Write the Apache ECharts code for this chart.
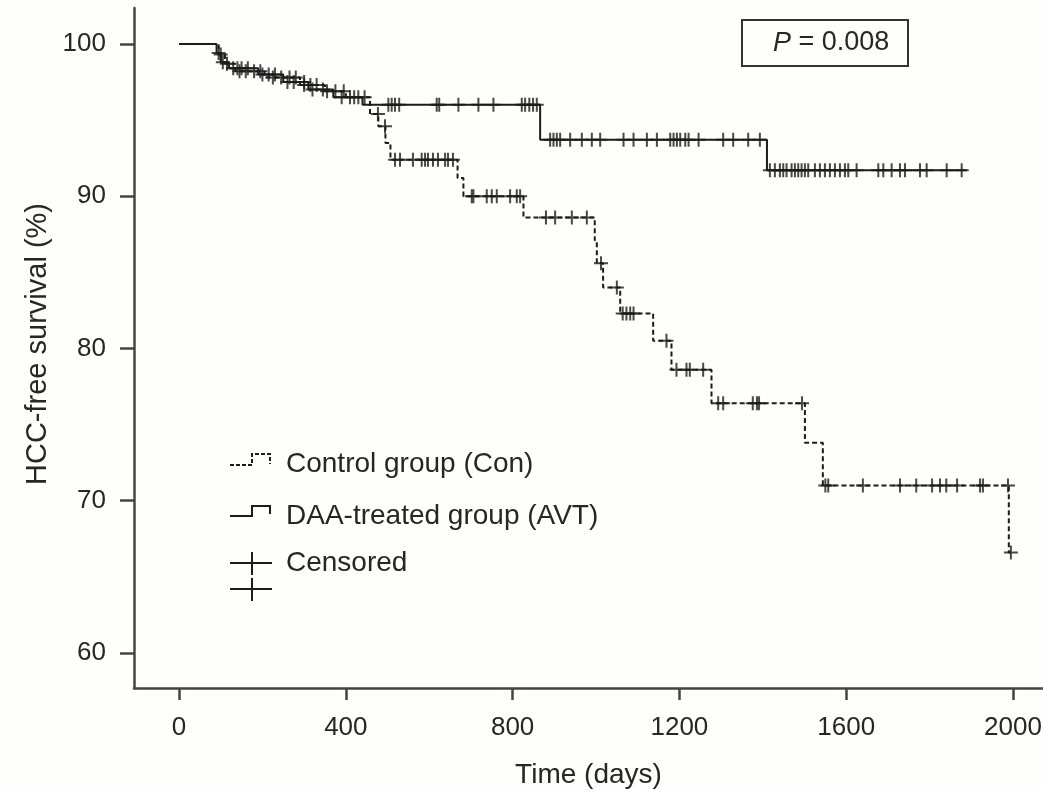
<!DOCTYPE html>
<html>
<head>
<meta charset="utf-8">
<script src="https://cdn.jsdelivr.net/npm/echarts@6/dist/echarts.min.js"></script>
<style>
html,body{margin:0;padding:0;background:#fefefb;}
#c{width:1043px;height:790px;}
</style>
</head>
<body>
<div id="c"></div>
<script>
// ---- Data ----
const xTicks = [0, 400, 800, 1200, 1600, 2000];
const yTicks = [60, 70, 80, 90, 100];

// DAA-treated group (AVT): event times (days) and survival (%) after each event
const avtTime = [0, 90, 100, 120, 190, 250, 310, 370, 440, 866, 1410];
const avtSurv = [100, 99.4, 98.8, 98.4, 98.0, 97.5, 97.0, 96.5, 96.0, 93.7, 91.7];
const avtEnd = 1889;
const avtCensor = [95, 105, 130, 140, 150, 165, 200, 215, 230, 260, 275, 300, 320, 345, 390, 410,
  502, 510, 518, 528, 618, 624, 670, 718, 754, 822, 830, 840, 849, 858,
  890, 898, 906, 914, 938, 966, 990, 1010, 1066, 1090, 1122, 1146, 1178, 1186, 1194, 1202, 1214, 1222, 1246, 1305, 1329, 1365, 1393,
  1417, 1429, 1441, 1449, 1457, 1469, 1477, 1485, 1493, 1501, 1509, 1525, 1537, 1549, 1561, 1573, 1585, 1597, 1605, 1625,
  1677, 1689, 1709, 1729, 1741, 1777, 1793, 1841, 1877];

// Control group (Con)
const conTime = [0, 95, 110, 135, 205, 290, 350, 400, 458, 478, 495, 507, 668, 682, 826, 997, 1002, 1017, 1058, 1137, 1181, 1277, 1501, 1544, 1990];
const conSurv = [100, 99.3, 98.7, 98.2, 97.8, 97.3, 96.9, 96.5, 95.4, 94.6, 93.5, 92.4, 91.2, 90.0, 88.6, 87.1, 85.6, 84.0, 82.3, 80.5, 78.6, 76.4, 73.8, 71.0, 66.6];
const conEnd = 1995;
const conCensor = [100, 115, 145, 160, 180, 195, 225, 245, 265, 280, 300, 315, 330, 355, 375, 395, 420, 430, 445, 477, 494,
  518, 530, 561, 582, 590, 597, 609, 621, 638, 645, 657,
  702, 706, 738, 750, 762, 794, 810, 818,
  880, 902, 942, 978, 1012, 1050, 1064, 1073, 1082, 1090, 1169,
  1193, 1217, 1225, 1257, 1293, 1305, 1376, 1386, 1391, 1494,
  1550, 1557, 1640, 1729, 1768, 1806, 1825, 1840, 1866, 1921, 1928, 1988, 1995];

const legendLabels = ['Control group (Con)', 'DAA-treated group (AVT)', 'Censored'];
const xTitle = 'Time (days)';
const yTitle = 'HCC-free survival (%)';
const pValue = '0.008';

// ---- Helpers ----
function survAt(times, surv, t) {
  let v = surv[0];
  for (let i = 0; i < times.length; i++) { if (times[i] <= t) v = surv[i]; }
  return v;
}
function curve(times, surv, end) {
  const d = times.map((t, i) => [t, surv[i]]);
  d.push([end, survAt(times, surv, end)]);
  return d;
}
function marks(times, surv, cens) {
  return cens.map(t => [t, survAt(times, surv, t)]);
}

const INK = '#1c1c1c';
const AX = '#444';
const TXT = '#262626';
const FONT = 'Liberation Sans, Arial, Helvetica, sans-serif';
const plus = 'path://M6,0H8V14H6Z M0,6H14V8H0Z';

const chart = echarts.init(document.getElementById('c'), null, {renderer: 'canvas'});
chart.setOption({
  backgroundColor: '#fefefb',
  animation: false,
  textStyle: {fontFamily: FONT},
  title: {
    text: '{i|P} = ' + pValue,
    left: 742, top: 20,
    borderColor: '#333', borderWidth: 2,
    padding: [9, 19, 9, 31],
    textStyle: {fontSize: 27, fontWeight: 'normal', color: TXT, fontFamily: FONT, lineHeight: 28,
      rich: {i: {fontStyle: 'italic', fontSize: 27, color: TXT, fontFamily: FONT, lineHeight: 28}}}
  },
  grid: {left: 134, right: 0, top: 8, bottom: 102, containLabel: false, outerBoundsMode: 'none'},
  xAxis: {
    type: 'value', min: -108, max: 2072,
    axisLine: {show: true, onZero: false, lineStyle: {color: AX, width: 2.5}},
    axisTick: {show: true, customValues: xTicks, length: 12, lineStyle: {color: AX, width: 2.5}},
    axisLabel: {customValues: xTicks, margin: 27, fontSize: 26, color: TXT, fontFamily: FONT,
      formatter: v => String(v)},
    splitLine: {show: false},
    name: xTitle, nameLocation: 'middle', nameGap: 73,
    nameTextStyle: {fontSize: 28, color: TXT, fontFamily: FONT}
  },
  yAxis: {
    type: 'value', min: 57.7, max: 102.36,
    axisLine: {show: true, onZero: false, lineStyle: {color: AX, width: 2.5}},
    axisTick: {show: true, customValues: yTicks, length: 14, lineStyle: {color: AX, width: 2.5}},
    axisLabel: {customValues: yTicks, margin: 28, fontSize: 26, color: TXT, fontFamily: FONT,
      formatter: v => String(v)},
    splitLine: {show: false}
  },
  series: [
    {type: 'line', name: 'Con', step: 'end', symbol: 'none', data: curve(conTime, conSurv, conEnd),
     lineStyle: {color: INK, width: 2, type: [5, 3]}, z: 2},
    {type: 'line', name: 'AVT', step: 'end', symbol: 'none', data: curve(avtTime, avtSurv, avtEnd),
     lineStyle: {color: INK, width: 2}, z: 3},
    {type: 'scatter', name: 'Con censored', symbol: plus, symbolSize: 14, data: marks(conTime, conSurv, conCensor),
     itemStyle: {color: INK}, z: 4},
    {type: 'scatter', name: 'AVT censored', symbol: plus, symbolSize: 14, data: marks(avtTime, avtSurv, avtCensor),
     itemStyle: {color: INK}, z: 4}
  ],
  graphic: [
    {type: 'text', x: 38, y: 344, rotation: Math.PI / 2,
     style: {text: yTitle, fontSize: 29, fontFamily: FONT, fill: TXT, align: 'center', verticalAlign: 'middle'}},
    // legend icons
    {type: 'polyline', shape: {points: [[230, 465], [252, 465], [252, 454], [270, 454], [270, 464]]},
     style: {stroke: INK, lineWidth: 2, lineDash: [4, 2], fill: null}},
    {type: 'polyline', shape: {points: [[230, 516], [252, 516], [252, 506], [270, 506], [270, 514]]},
     style: {stroke: INK, lineWidth: 2, fill: null}},
    {type: 'line', shape: {x1: 230, y1: 563, x2: 272, y2: 563}, style: {stroke: INK, lineWidth: 2}},
    {type: 'line', shape: {x1: 252, y1: 552, x2: 252, y2: 575}, style: {stroke: INK, lineWidth: 2}},
    {type: 'line', shape: {x1: 230, y1: 589, x2: 272, y2: 589}, style: {stroke: INK, lineWidth: 2}},
    {type: 'line', shape: {x1: 252, y1: 578, x2: 252, y2: 601}, style: {stroke: INK, lineWidth: 2}},
    {type: 'text', x: 286, y: 464, style: {text: legendLabels[0], fontSize: 28, fontFamily: FONT, fill: TXT, verticalAlign: 'middle'}},
    {type: 'text', x: 286, y: 516, style: {text: legendLabels[1], fontSize: 28, fontFamily: FONT, fill: TXT, verticalAlign: 'middle'}},
    {type: 'text', x: 286, y: 563, style: {text: legendLabels[2], fontSize: 28, fontFamily: FONT, fill: TXT, verticalAlign: 'middle'}}
  ]
});
</script>
</body>
</html>
